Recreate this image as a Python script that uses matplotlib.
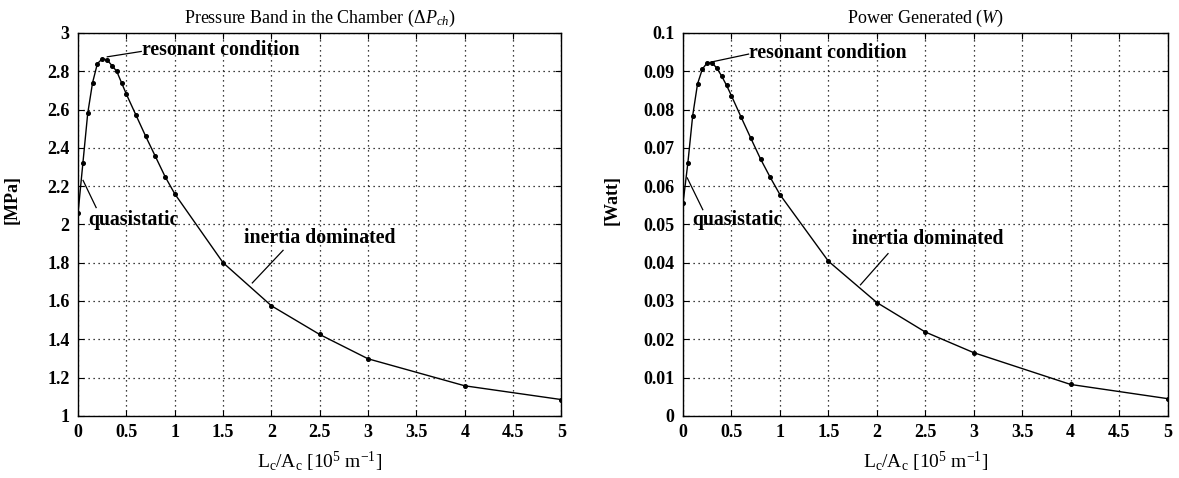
import matplotlib
matplotlib.use("Agg")
import matplotlib.pyplot as plt

plt.rcParams['font.family'] = ['Liberation Serif', 'DejaVu Serif']
plt.rcParams['mathtext.fontset'] = 'custom'
plt.rcParams['mathtext.rm'] = 'Liberation Serif'
plt.rcParams['mathtext.it'] = 'Liberation Serif:italic'
plt.rcParams['mathtext.bf'] = 'Liberation Serif:bold'

# Inertance ratio L_c/A_c in units of 1e5 m^-1
lc_ac = [0, 0.05, 0.1, 0.15, 0.2, 0.25, 0.3, 0.35, 0.4, 0.45, 0.5,
         0.6, 0.7, 0.8, 0.9, 1.0, 1.5, 2.0, 2.5, 3.0, 4.0, 5.0]

# Pressure band in the chamber [MPa]
pressure_band = [2.06, 2.32, 2.58, 2.74, 2.84, 2.865, 2.86, 2.83, 2.80, 2.74, 2.68,
                 2.57, 2.46, 2.355, 2.25, 2.16, 1.80, 1.575, 1.425, 1.298, 1.157, 1.085]

# Power generated [W]
power = [0.0555, 0.0660, 0.0784, 0.0867, 0.0906, 0.0922, 0.0922, 0.0908, 0.0887, 0.0863, 0.0836,
         0.0780, 0.0725, 0.0671, 0.0623, 0.0578, 0.0404, 0.0296, 0.0219, 0.0165, 0.0082, 0.0045]

x_ticks = [0, 0.5, 1, 1.5, 2, 2.5, 3, 3.5, 4, 4.5, 5]
x_tick_labels = ['0', '0.5', '1', '1.5', '2', '2.5', '3', '3.5', '4', '4.5', '5']
p_ticks = [1, 1.2, 1.4, 1.6, 1.8, 2, 2.2, 2.4, 2.6, 2.8, 3]
p_tick_labels = ['1', '1.2', '1.4', '1.6', '1.8', '2', '2.2', '2.4', '2.6', '2.8', '3']
w_ticks = [0, 0.01, 0.02, 0.03, 0.04, 0.05, 0.06, 0.07, 0.08, 0.09, 0.1]
w_tick_labels = ['0', '0.01', '0.02', '0.03', '0.04', '0.05', '0.06', '0.07', '0.08', '0.09', '0.1']

xlabel = r'L$_\mathrm{c}$/A$_\mathrm{c}$ [10$^5$ m$^{-1}$]'

fig = plt.figure(figsize=(11.79, 4.78), dpi=100)
ax1 = fig.add_axes([0.0662, 0.130, 0.410, 0.801])
ax2 = fig.add_axes([0.5793, 0.130, 0.411, 0.801])


def style_axes(ax, yticks, ylabels, ylim):
    ax.set_xlim(0, 5)
    ax.set_ylim(*ylim)
    ax.set_xticks(x_ticks)
    ax.set_xticklabels(x_tick_labels)
    ax.set_yticks(yticks)
    ax.set_yticklabels(ylabels)
    ax.grid(True, color='black', linestyle=(0, (1, 3)), linewidth=0.9)
    ax.tick_params(direction='in', top=True, right=True, length=4, width=0.8,
                   labelsize=13, pad=6)
    for lab in ax.get_xticklabels() + ax.get_yticklabels():
        lab.set_fontweight('bold')
    for sp in ax.spines.values():
        sp.set_linewidth(1.0)
    ax.set_xlabel(xlabel, fontsize=14, labelpad=6)


def note(ax, text, text_xy, line_from, line_to):
    """Label with a plain leader line drawn between two data points."""
    ax.text(*text_xy, text, fontsize=14.2, fontweight='bold', va='center', ha='left')
    ax.plot([line_from[0], line_to[0]], [line_from[1], line_to[1]],
            color='black', lw=0.9, solid_capstyle='butt')


# Left: pressure band
ax1.plot(lc_ac, pressure_band, color='black', lw=1.0, marker='o', markersize=2.6)
style_axes(ax1, p_ticks, p_tick_labels, (1, 3))
ax1.set_title(r'Pressure Band in the Chamber ($\Delta P_{ch}$)', fontsize=13, pad=7)
ax1.set_ylabel('[MPa]', fontsize=13, fontweight='bold')
ax1.yaxis.set_label_coords(-0.118, 0.564)
note(ax1, 'resonant condition', (0.66, 2.910), (0.66, 2.904), (0.296, 2.875))
note(ax1, 'quasistatic', (0.105, 2.024), (0.19, 2.085), (0.049, 2.233))
note(ax1, 'inertia dominated', (1.72, 1.928), (2.125, 1.867), (1.798, 1.692))

# Right: power generated
ax2.plot(lc_ac, power, color='black', lw=1.0, marker='o', markersize=2.6)
style_axes(ax2, w_ticks, w_tick_labels, (0, 0.1))
ax2.set_title(r'Power Generated ($W$)', fontsize=13, pad=7)
ax2.set_ylabel('[Watt]', fontsize=13, fontweight='bold')
ax2.yaxis.set_label_coords(-0.128, 0.564)
note(ax2, 'resonant condition', (0.683, 0.0949), (0.683, 0.09452), (0.276, 0.09233))
note(ax2, 'quasistatic', (0.10, 0.0511), (0.207, 0.0537), (0.041, 0.0623))
note(ax2, 'inertia dominated', (1.74, 0.0463), (2.12, 0.0425), (1.827, 0.0341))

fig.savefig('out.png', dpi=100)
